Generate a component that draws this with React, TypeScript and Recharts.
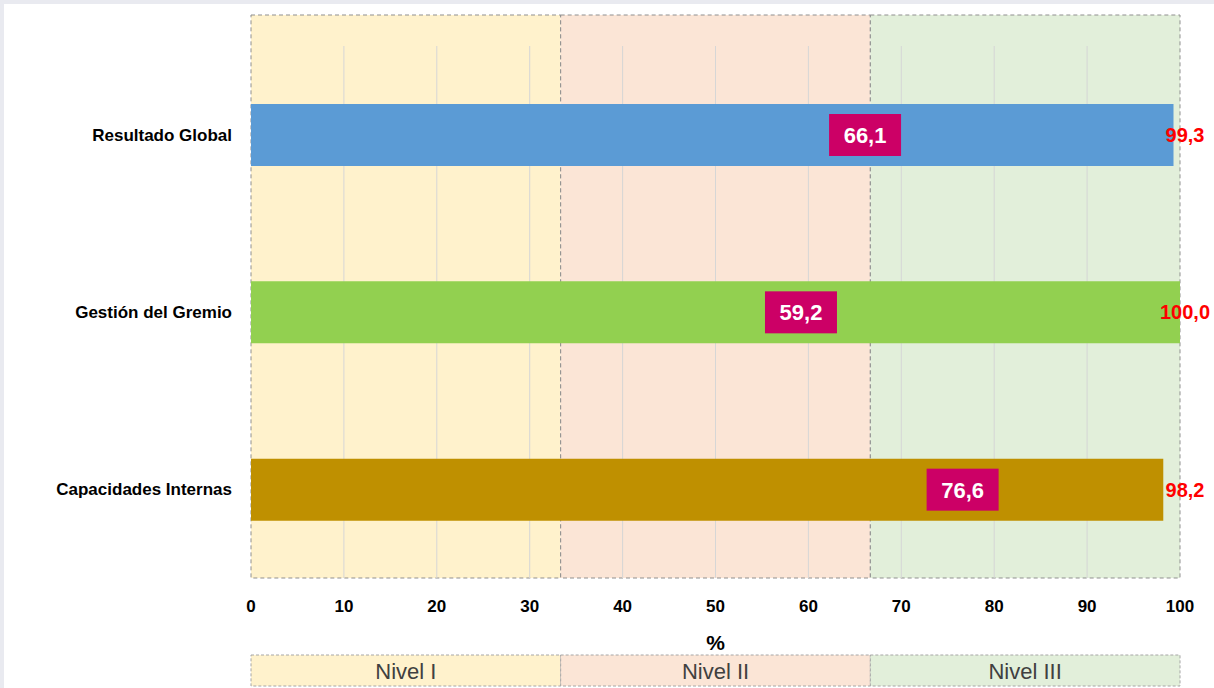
import { BarChart, Bar, XAxis, YAxis, ReferenceArea, LabelList, Cell } from "recharts";

const categories = ["Resultado Global", "Gestión del Gremio", "Capacidades Internas"];
const totals = [99.3, 100.0, 98.2];
const scores = [66.1, 59.2, 76.6];
const barColors = ["#5b9bd5", "#92d050", "#bf9000"];
const xTicks = [0, 10, 20, 30, 40, 50, 60, 70, 80, 90, 100];

const levelNames = ["Nivel I", "Nivel II", "Nivel III"];
const levelFrom = [0, 100 / 3, 200 / 3];
const levelTo = [100 / 3, 200 / 3, 100];
const levelFills = ["#fff2cc", "#fbe5d6", "#e2efda"];

const data = categories.map((name, i) => ({
  name,
  total: totals[i],
  score: scores[i],
}));

const fmt = (v: number) => v.toFixed(1).replace(".", ",");

// band behind the plot, its grid lines, and the matching box in the strip under the axis
function LevelShape(props: any) {
  const { x, y, width, height, fill, level, from, to } = props;
  const unit = width / (to - from);
  const inside = xTicks.filter((t) => t > from && t < to);
  return (
    <g>
      <rect x={x} y={y - 31} width={width} height={height + 31} fill={fill} stroke="#8f8f8f" strokeDasharray="4 3" />
      {inside.map((t) => (
        <line key={t} x1={x + (t - from) * unit} x2={x + (t - from) * unit} y1={y} y2={y + height} stroke="#d6d6d6" />
      ))}
      <rect x={x} y={y + height + 77} width={width} height={31} fill={fill} stroke="#a6a6a6" strokeDasharray="3 2" />
      <text x={x + width / 2} y={y + height + 101} textAnchor="middle" fontSize={22} fill="#404040">
        {level}
      </text>
    </g>
  );
}

function ScoreLabel(props: any) {
  const { x, y, width, height, index } = props;
  const unit = width / totals[index];
  const cx = x + scores[index] * unit;
  const cy = y + height / 2;
  return (
    <g>
      <rect x={cx - 36} y={cy - 21} width={72} height={42} fill="#cc0066" />
      <text x={cx} y={cy + 8} textAnchor="middle" fontSize={22} fontWeight="bold" fill="#ffffff">
        {fmt(scores[index])}
      </text>
    </g>
  );
}

function TotalLabel(props: any) {
  const { x, y, width, height, index } = props;
  const full = x + (width * 100) / totals[index];
  return (
    <text x={full + 5} y={y + height / 2 + 7} textAnchor="middle" fontSize={20} fontWeight="bold" fill="#ff0000">
      {fmt(totals[index])}
    </text>
  );
}

export default function App() {
  return (
    <div style={{ position: "fixed", left: 0, top: 0, width: 1214, height: 688, background: "#e9eaf0" }}>
      <div style={{ position: "absolute", left: 4, top: 4, right: 0, bottom: 0, background: "#ffffff" }} />
      <div style={{ position: "absolute", left: 0, top: 0 }}>
        <BarChart
          width={1214}
          height={688}
          data={data}
          layout="vertical"
          margin={{ top: 46, right: 34, bottom: 30, left: 0 }}
          barSize={62}
          style={{ fontFamily: "'Liberation Sans', Arial, sans-serif" }}
        >
          {levelNames.map((lv, i) => (
            <ReferenceArea
              key={lv}
              x1={levelFrom[i]}
              x2={levelTo[i]}
              fill={levelFills[i]}
              fillOpacity={1}
              ifOverflow="visible"
              shape={(p: any) => (
                <LevelShape {...p} fill={levelFills[i]} level={lv} from={levelFrom[i]} to={levelTo[i]} />
              )}
            />
          ))}
          <XAxis
            type="number"
            domain={[0, 100]}
            ticks={xTicks}
            axisLine={false}
            tickLine={false}
            tickSize={0}
            tickMargin={22}
            height={80}
            tick={{ fill: "#000", fontSize: 17, fontWeight: "bold" }}
            label={{ value: "%", position: "insideBottom", offset: 8, fill: "#000", fontSize: 21, fontWeight: "bold" }}
          />
          <YAxis
            type="category"
            dataKey="name"
            width={251}
            axisLine={false}
            tickLine={false}
            tickSize={0}
            tickMargin={19}
            tick={{ fill: "#000", fontSize: 17, fontWeight: "bold" }}
          />
          <Bar dataKey="total" isAnimationActive={false}>
            {data.map((d, i) => (
              <Cell key={d.name} fill={barColors[i]} />
            ))}
            <LabelList dataKey="score" content={(p: any) => <ScoreLabel {...p} />} />
            <LabelList dataKey="total" content={(p: any) => <TotalLabel {...p} />} />
          </Bar>
        </BarChart>
      </div>
    </div>
  );
}
